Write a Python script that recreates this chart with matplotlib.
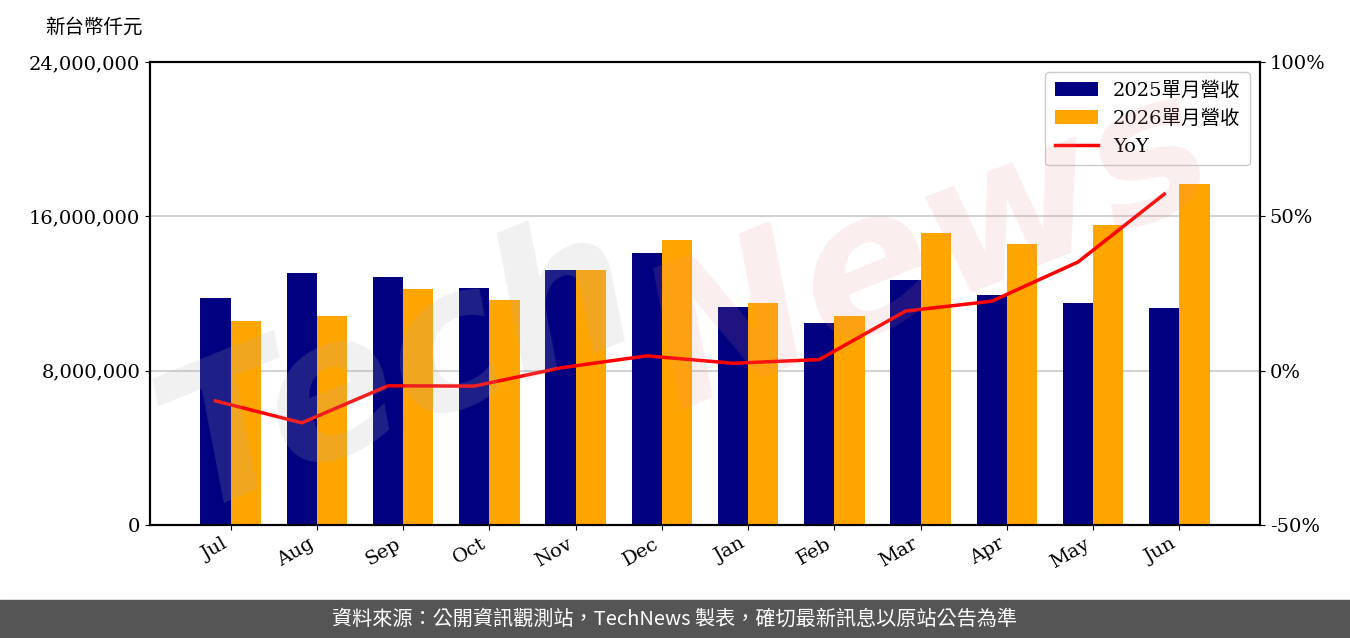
import matplotlib
matplotlib.use('Agg')
import matplotlib.pyplot as plt
import numpy as np

plt.rcParams['font.family'] = ['DejaVu Serif', 'Noto Sans CJK TC']

months = ['Jul', 'Aug', 'Sep', 'Oct', 'Nov', 'Dec', 'Jan', 'Feb', 'Mar', 'Apr', 'May', 'Jun']
rev_2025 = [11770000, 13060000, 12860000, 12290000, 13220000, 14100000,
            11300000, 10470000, 12700000, 11920000, 11510000, 11250000]
rev_2026 = [10580000, 10830000, 12230000, 11660000, 13220000, 14770000,
            11510000, 10830000, 15140000, 14570000, 15550000, 17680000]
yoy = [-9.8, -16.9, -4.9, -5.0, 0.9, 4.8, 2.4, 3.6, 19.3, 22.5, 35.2, 57.2]

fig = plt.figure(figsize=(13.5, 6.38), dpi=100)
ax = fig.add_axes([150 / 1350, 1 - 525 / 638, 1110 / 1350, 463 / 638])

x = np.arange(len(months))
w = 0.35
ax.bar(x - w / 2, rev_2025, w, color='#000080', label='2025單月營收', zorder=2)
ax.bar(x + w / 2, rev_2026, w, color='#FFA500', label='2026單月營收', zorder=2)

ax.set_ylim(0, 24000000)
ax.set_yticks([0, 8000000, 16000000, 24000000])
ax.yaxis.set_major_formatter(matplotlib.ticker.FuncFormatter(lambda v, p: f'{int(v):,}'))
ax.grid(axis='y', color='#d3d3d3', linewidth=1.5, zorder=0)
ax.set_axisbelow(True)
ax.set_xticks(x)
ax.set_xticklabels(months, rotation=30, ha='right', rotation_mode='default', fontsize=14)
ax.tick_params(axis='y', labelsize=14)
for s in ax.spines.values():
    s.set_linewidth(1.5)

ax2 = ax.twinx()
ax2.plot(x - w / 2, yoy, color='red', linewidth=2.5, label='YoY', zorder=3)
ax2.set_ylim(-50, 100)
ax2.set_yticks([-50, 0, 50, 100])
ax2.set_yticklabels(['-50%', '0%', '50%', '100%'])
ax2.tick_params(axis='y', labelsize=14)
for s in ax2.spines.values():
    s.set_linewidth(1.5)

h1, l1 = ax.get_legend_handles_labels()
h2, l2 = ax2.get_legend_handles_labels()
ax2.legend(h1 + h2, l1 + l2, loc='upper right', fontsize=14, framealpha=1,
           edgecolor='#cccccc', handlelength=2.2, borderpad=0.5)

# watermark
fig.text(400 / 1350, 1 - 370 / 638, 'Tech', fontsize=140, rotation=22, color='#b0b0b0',
         alpha=0.18, ha='center', va='center', family='DejaVu Sans', style='italic',
         weight='bold', zorder=5)
fig.text(930 / 1350, 1 - 250 / 638, 'News', fontsize=140, rotation=22, color='#e88a8a',
         alpha=0.14, ha='center', va='center', family='DejaVu Sans', style='italic',
         weight='bold', zorder=5)

fig.text(45 / 1350, 1 - 27 / 638, '新台幣仟元', fontsize=14, va='center',
         family=['Noto Sans CJK TC'])

# bottom banner
fig.patches.append(plt.Rectangle((0, 0), 1, 38 / 638, transform=fig.transFigure,
                                 color='#555555', zorder=0))
fig.text(0.5, 19 / 638, '資料來源：公開資訊觀測站，TechNews 製表，確切最新訊息以原站公告為準',
         color='white', fontsize=14.5, ha='center', va='center', family=['Noto Sans CJK TC'])

fig.savefig('out.png', dpi=100)
